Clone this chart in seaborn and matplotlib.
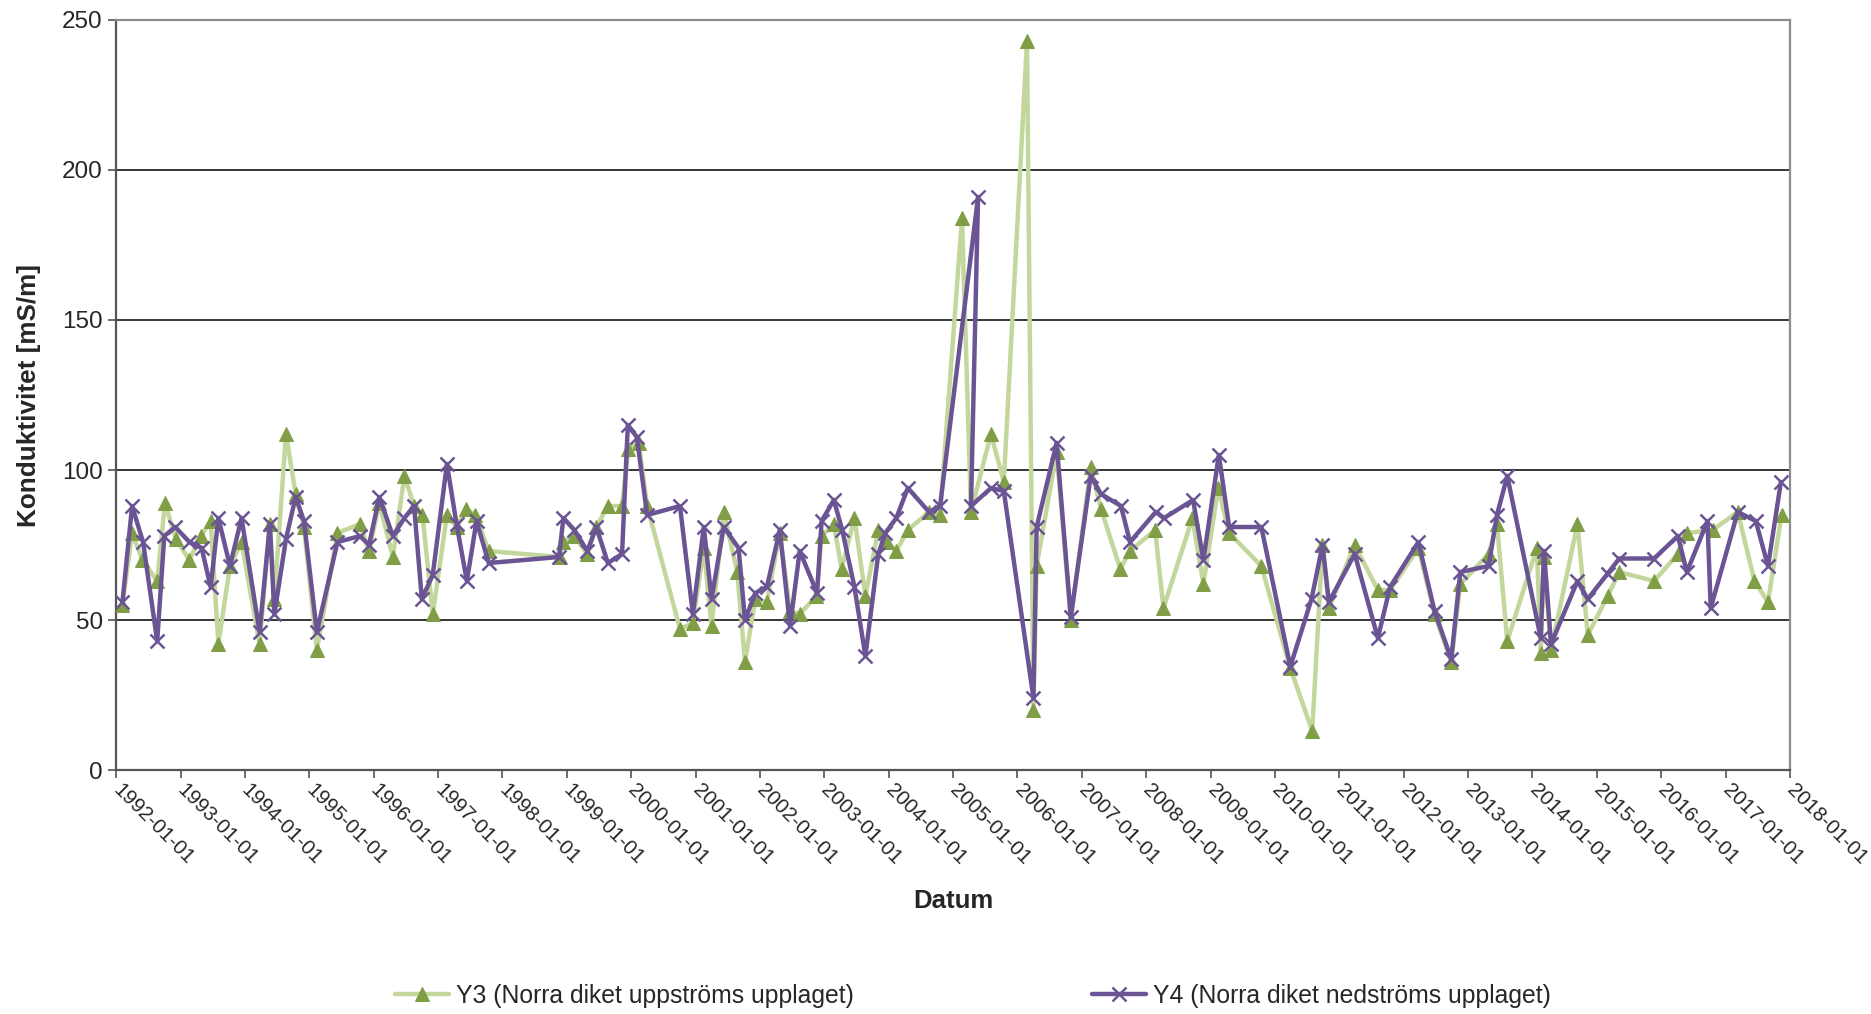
import numpy as np
import pandas as pd
import matplotlib
matplotlib.use("Agg")
import matplotlib.pyplot as plt
import matplotlib.dates as mdates
import seaborn as sns

# Measurement dates as decimal years, values in mS/m
y3_year = [1992.10, 1992.25, 1992.41, 1992.64, 1992.76, 1992.93, 1993.14, 1993.32, 1993.47, 1993.59,
           1993.77, 1993.95, 1994.23, 1994.39, 1994.46, 1994.64, 1994.79, 1994.92, 1995.12, 1995.44,
           1995.79, 1995.93, 1996.09, 1996.30, 1996.48, 1996.63, 1996.76, 1996.92, 1997.14, 1997.29,
           1997.44, 1997.58, 1997.79, 1998.89, 1998.95, 1999.12, 1999.32, 1999.46, 1999.64, 1999.86,
           1999.96, 2000.12, 2000.25, 2000.76, 2000.96, 2001.13, 2001.25, 2001.44, 2001.65, 2001.77,
           2001.93, 2002.11, 2002.31, 2002.47, 2002.62, 2002.88, 2002.96, 2003.15, 2003.27, 2003.47,
           2003.64, 2003.84, 2003.97, 2004.12, 2004.30, 2004.63, 2004.80, 2005.14, 2005.28, 2005.59,
           2005.79, 2006.15, 2006.25, 2006.30, 2006.61, 2006.83, 2007.14, 2007.30, 2007.60, 2007.75,
           2008.14, 2008.27, 2008.72, 2008.89, 2009.12, 2009.29, 2009.79, 2010.24, 2010.58, 2010.74,
           2010.84, 2011.24, 2011.60, 2011.79, 2012.23, 2012.48, 2012.74, 2012.88, 2013.32, 2013.45,
           2013.61, 2014.07, 2014.13, 2014.18, 2014.29, 2014.70, 2014.86, 2015.17, 2015.35, 2015.89,
           2016.26, 2016.40, 2016.80, 2017.19, 2017.45, 2017.66, 2017.87]
y3_value = [55, 79, 70, 63, 89, 77, 70, 78, 83, 42,
            68, 76, 42, 82, 57, 112, 92, 81, 40, 79,
            82, 73, 89, 71, 98, 88, 85, 52, 85, 81,
            87, 85, 73, 71, 76, 78, 72, 81, 88, 88,
            107, 109, 88, 47, 49, 74, 48, 86, 66, 36,
            57, 56, 79, 53, 52, 58, 78, 82, 67, 84,
            58, 80, 76, 73, 80, 86, 85, 184, 86, 112,
            96, 243, 20, 68, 106, 50, 101, 87, 67, 73,
            80, 54, 84, 62, 94, 79, 68, 34, 13, 75,
            54, 75, 60, 60, 74, 52, 36, 62, 72, 82,
            43, 74, 39, 71, 40, 82, 45, 58, 66, 63,
            72, 79, 80, 86, 63, 56, 85]

y4_year = [1992.10, 1992.25, 1992.42, 1992.64, 1992.75, 1992.92, 1993.14, 1993.33, 1993.47, 1993.59,
           1993.77, 1993.95, 1994.23, 1994.39, 1994.46, 1994.64, 1994.79, 1994.92, 1995.12, 1995.44,
           1995.79, 1995.93, 1996.09, 1996.30, 1996.48, 1996.63, 1996.75, 1996.92, 1997.14, 1997.29,
           1997.45, 1997.60, 1997.79, 1998.88, 1998.95, 1999.12, 1999.32, 1999.46, 1999.64, 1999.86,
           1999.95, 2000.09, 2000.25, 2000.76, 2000.96, 2001.13, 2001.25, 2001.44, 2001.67, 2001.77,
           2001.93, 2002.11, 2002.31, 2002.47, 2002.62, 2002.89, 2002.96, 2003.15, 2003.28, 2003.47,
           2003.64, 2003.84, 2003.95, 2004.12, 2004.30, 2004.63, 2004.80, 2005.39, 2005.28, 2005.59,
           2005.79, 2006.25, 2006.30, 2006.61, 2006.83, 2007.14, 2007.30, 2007.61, 2007.75, 2008.15,
           2008.28, 2008.73, 2008.89, 2009.13, 2009.29, 2009.79, 2010.24, 2010.57, 2010.74, 2010.84,
           2011.24, 2011.60, 2011.79, 2012.23, 2012.48, 2012.74, 2012.88, 2013.32, 2013.45, 2013.61,
           2014.13, 2014.18, 2014.29, 2014.70, 2014.86, 2015.17, 2015.35, 2015.89, 2016.26, 2016.40,
           2016.72, 2016.77, 2017.19, 2017.47, 2017.66, 2017.86]
y4_value = [56, 88, 76, 43, 78, 81, 76, 74, 61, 84,
            68, 84, 46, 82, 52, 77, 91, 83, 46, 76,
            78, 75, 91, 78, 84, 88, 57, 65, 102, 82,
            63, 83, 69, 71, 84, 80, 73, 81, 69, 72,
            115, 111, 85, 88, 52, 81, 57, 81, 74, 50,
            59, 61, 80, 48, 73, 59, 83, 90, 80, 61,
            38, 72, 79, 84, 94, 86, 88, 191, 88, 94,
            93, 24, 81, 109, 51, 98, 92, 88, 76, 86,
            84, 90, 70, 105, 81, 81, 34.5, 57, 75, 56,
            72, 44, 61, 76, 53, 37, 66, 68, 85, 98,
            44, 73, 42, 63, 57, 65.5, 70.5, 70.5, 78, 66,
            83, 54, 86, 83, 68, 96]

y3_label = "Y3 (Norra diket uppströms upplaget)"
y4_label = "Y4 (Norra diket nedströms upplaget)"


def to_dates(years):
    years = np.asarray(years)
    return pd.Timestamp("1992-01-01") + pd.to_timedelta((years - 1992) * 365.25, unit="D")


df3 = pd.DataFrame({"Datum": to_dates(y3_year), "value": y3_value})
df4 = pd.DataFrame({"Datum": to_dates(y4_year), "value": y4_value})

sns.set_style("white")
plt.rcParams["font.family"] = ["Liberation Sans", "DejaVu Sans"]

fig = plt.figure(figsize=(18.71, 10.14), dpi=100)
ax = fig.add_axes([0.062, 0.2406, 0.8947, 0.7397])

sns.lineplot(data=df3, x="Datum", y="value", ax=ax, sort=False, estimator=None,
             color="#C3D69B", lw=3.2, marker="^", markersize=10,
             markerfacecolor="#7F9E45", markeredgecolor="#7F9E45", label=y3_label, zorder=3)
sns.lineplot(data=df4, x="Datum", y="value", ax=ax, sort=False, estimator=None,
             color="#6A5494", lw=3.2, marker="x", markersize=10, markeredgewidth=1.8,
             markeredgecolor="#6A5494", label=y4_label, zorder=4)

ax.set_ylim(0, 250)
ax.set_yticks(range(0, 251, 50))
ax.set_xlim(pd.Timestamp("1992-01-01"), pd.Timestamp("2018-01-01"))
ax.xaxis.set_major_locator(mdates.YearLocator())
ax.xaxis.set_major_formatter(mdates.DateFormatter("%Y-%m-%d"))

ax.yaxis.grid(True, color="black", lw=1.1)
ax.xaxis.grid(False)
ax.set_axisbelow(True)
for side in ["top", "right"]:
    ax.spines[side].set_color("#8C8C8C")
    ax.spines[side].set_linewidth(1.6)
for side in ["left", "bottom"]:
    ax.spines[side].set_color("#555555")
    ax.spines[side].set_linewidth(1.6)

ax.tick_params(axis="both", which="major", direction="out", length=6, width=1.2,
               color="#555555", labelsize=17.5, bottom=True, left=True)
ax.tick_params(axis="x", labelsize=14.8, pad=6)
for lbl in ax.get_xticklabels():
    lbl.set_rotation(-45)
    lbl.set_ha("left")
    lbl.set_va("center")
    lbl.set_rotation_mode("anchor")

ax.set_xlabel("Datum", fontsize=18.5, fontweight="bold", va="center")
ax.xaxis.set_label_coords(0.5, -0.175)
ax.set_ylabel("Konduktivitet [mS/m]", fontsize=18.8, fontweight="bold", va="center")
ax.yaxis.set_label_coords(-0.052, 0.5)

ax.get_legend().remove()
handles, labels = ax.get_legend_handles_labels()
fig.legend(handles, labels, loc="center", bbox_to_anchor=(0.52, 0.018), ncol=2,
           frameon=False, fontsize=17.8, handlelength=2.2, handletextpad=0.3,
           columnspacing=9.6)

fig.savefig("out.png", dpi=100)
